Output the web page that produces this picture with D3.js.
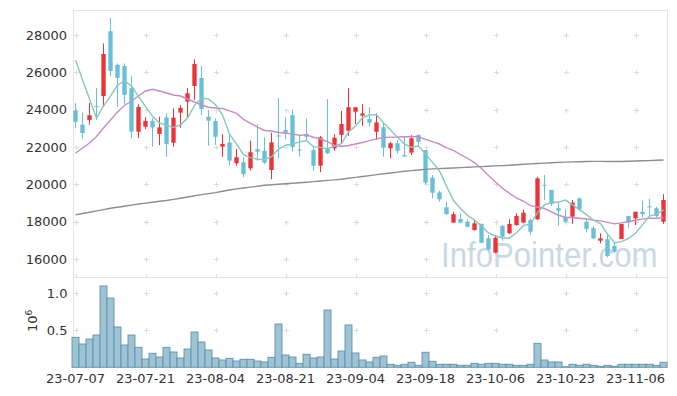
<!DOCTYPE html>
<html><head><meta charset="utf-8">
<script src="https://cdn.jsdelivr.net/npm/d3@7"></script>
<style>
html,body{margin:0;padding:0;background:#fff;}
svg{display:block;font-family:"DejaVu Sans",sans-serif;}
</style></head><body>
<svg id="chart" width="677" height="396"></svg>
<script>
const dates = ["23-07-07","23-07-10","23-07-11","23-07-12","23-07-13","23-07-14","23-07-17","23-07-18","23-07-19","23-07-20",
"23-07-21","23-07-24","23-07-25","23-07-26","23-07-27","23-07-28","23-07-31","23-08-01","23-08-02","23-08-03",
"23-08-04","23-08-07","23-08-08","23-08-09","23-08-10","23-08-11","23-08-14","23-08-16","23-08-17","23-08-18",
"23-08-21","23-08-22","23-08-23","23-08-24","23-08-25","23-08-28","23-08-29","23-08-30","23-08-31","23-09-01",
"23-09-04","23-09-05","23-09-06","23-09-07","23-09-08","23-09-11","23-09-12","23-09-13","23-09-14","23-09-15",
"23-09-18","23-09-19","23-09-20","23-09-21","23-09-22","23-09-25","23-09-26","23-09-27","23-10-04","23-10-05",
"23-10-06","23-10-10","23-10-11","23-10-12","23-10-13","23-10-16","23-10-17","23-10-18","23-10-19","23-10-20",
"23-10-23","23-10-24","23-10-25","23-10-26","23-10-27","23-10-30","23-10-31","23-11-01","23-11-02","23-11-03",
"23-11-06","23-11-07","23-11-08","23-11-09","23-11-10"];

const open = [23950,23200,23450,24200,24730,28200,26400,26340,25150,22820,
23090,23400,22700,23590,22230,23840,24430,25270,25700,23620,
23390,22020,22250,21130,21180,20860,21890,21790,20770,22620,
22910,23710,21860,22700,21840,21000,21890,21930,22650,22870,
23890,23680,23500,22820,23060,21930,22200,21570,21700,22640,
21840,20360,19570,18770,17950,18140,18000,17550,17880,17110,
16340,17770,17380,17820,17950,18090,18130,19980,19700,18720,
18230,18270,19250,18000,17650,16980,17060,16700,17070,18300,
18180,18530,18820,18720,18000];

const high = [24350,23850,24350,25150,27550,28900,26480,26480,25800,24290,
23590,23540,23620,23800,24070,24250,25150,26700,26340,23980,
23540,22680,22640,21890,21450,22340,23230,22520,22770,24610,
23590,24020,22590,23540,22000,22590,24570,22680,23930,25150,
24130,24290,24130,23800,23300,22270,22380,22590,22640,22680,
21840,20500,19660,19070,18530,18450,18130,18090,17910,17290,
17290,17820,18130,18450,18630,18180,20400,20500,19700,19070,
18660,19160,19310,18180,17770,17380,17380,16870,17880,18300,
18530,19120,19220,18800,19470];

const low = [23000,22450,23200,23450,24150,25770,24150,24290,22470,22470,
22960,22020,22100,21480,22020,23030,23540,24520,23710,22070,
22110,21480,21000,21000,20380,20730,21270,21090,20270,21400,
22410,21750,21480,22380,20730,20650,21630,21800,22160,22600,
23230,23130,23090,22380,21480,21400,21660,21480,21570,22050,
20020,19250,19070,18360,17950,17910,17700,17520,16840,16450,
16300,16980,17340,17780,17910,17290,18090,19160,18840,17770,
17950,17880,18590,17430,17060,16840,16090,16340,17070,17650,
17820,18230,18360,18230,17880];

const close = [23350,22750,23700,24150,26980,26070,25700,24790,22820,24150,
23400,23050,23050,22160,23570,24100,24880,26450,24040,23410,
22550,22160,21270,21450,20540,21720,21750,21160,22250,22580,
22730,22000,21820,22550,21000,22520,21660,22500,23230,24130,
24130,23800,23300,23320,21960,22200,21800,21500,22470,22280,
20090,19550,19200,18410,18400,17950,17730,17910,16870,16520,
17140,17200,17880,18300,18480,17460,20320,19930,18950,18590,
18000,19020,18660,17610,17110,17110,16160,16390,17880,17950,
18530,18400,18790,18300,19160];

const volume = [405000,315000,382000,436000,1099000,936000,545000,301000,436000,270000,
112000,189000,139000,270000,207000,126000,247000,477000,342000,234000,
126000,99000,121000,85000,108000,108000,85000,72000,135000,585000,
166000,139000,54000,176000,126000,139000,774000,112000,220000,572000,
193000,99000,72000,135000,153000,41000,27000,41000,68000,27000,
203000,81000,41000,41000,41000,27000,27000,54000,41000,54000,
54000,41000,41000,27000,27000,41000,324000,99000,72000,72000,
8000,41000,27000,41000,27000,14000,27000,14000,41000,41000,
41000,41000,41000,27000,68000];

const ma5 = [26660,25600,24570,23540,24186,24730,25320,25538,25272,24706,
24172,23642,23294,23162,23046,23186,23552,24232,24608,24576,
24266,23722,22686,22168,21594,21428,21346,21324,21484,21892,
22094,22144,22276,22336,22020,21978,21910,22046,22182,22808,
23130,23558,23718,23736,23302,22916,22516,22156,21986,22050,
21628,21178,20718,19906,19130,18702,18338,18080,17772,17396,
17234,17128,17122,17408,17800,17864,18488,18898,19028,19050,
19158,18898,18644,18376,18080,17902,17330,16876,16930,17098,
17382,17830,18310,18394,18636];

const ma20 = [21663,21947,22214,22563,23018,23447,23875,24223,24464,24732,
25000,25091,25000,24893,24786,24732,24571,24411,24250,24129,
24089,24059,23938,23803,23481,23263,23066,22884,22856,22777,
22744,22691,22630,22649,22521,22442,22281,22083,22043,22079,
22158,22240,22341,22435,22506,22530,22532,22549,22560,22545,
22413,22291,22160,21953,21823,21594,21398,21168,20850,20470,
20120,19790,19519,19268,19094,18857,18783,18705,18529,18344,
18240,18213,18186,18146,18082,18040,17961,17885,17936,18007,
18077,18135,18181,18181,18215];

const ma120 = [18363,18438,18507,18577,18647,18716,18775,18829,18888,18947,
18995,19043,19091,19134,19193,19257,19322,19386,19450,19504,
19557,19627,19697,19756,19804,19852,19900,19949,19981,20007,
20034,20061,20088,20114,20147,20179,20211,20238,20275,20323,
20372,20420,20468,20522,20565,20607,20655,20698,20736,20768,
20800,20827,20843,20859,20875,20897,20918,20934,20950,20972,
20988,21004,21025,21047,21073,21095,21116,21138,21159,21175,
21191,21202,21213,21223,21229,21229,21223,21223,21223,21234,
21250,21261,21272,21288,21304];

const priceTicks = [16000,18000,20000,22000,24000,26000,28000];
const volumeTicks = [500000,1000000];
const volumeTickLabels = ["0.5","1.0"];
const tickEvery = 10;

const svg = d3.select("#chart");
const L = 72, R = 667;
const x = d3.scaleBand().domain(dates).range([L, R]).padding(0);
const cx = d => x(d) + x.bandwidth()/2;
const y = d3.scaleLinear().domain([16000, 28000]).range([259, 35]);
const yv = d3.scaleLinear().domain([0, 1000000]).range([367.3, 293.3]);
const xTicks = dates.filter((d,i) => i % tickEvery === 0);

// watermark
svg.append("text").attr("transform", "translate(441,267) scale(0.89,1)")
  .attr("font-family", "Liberation Sans, Arial, sans-serif").attr("font-size", 35)
  .attr("fill", "#c8d9e5").text("InfoPointer.com");

// frame
const frame = svg.append("g").attr("stroke", "#e4e4e4").attr("stroke-width", 1).attr("fill", "none");
frame.append("line").attr("x1", 73).attr("x2", 667.5).attr("y1", 10.5).attr("y2", 10.5);
frame.append("line").attr("x1", 73).attr("x2", 667.5).attr("y1", 277.5).attr("y2", 277.5);
frame.append("line").attr("x1", 73.5).attr("x2", 73.5).attr("y1", 10).attr("y2", 368);
frame.append("line").attr("x1", 667.5).attr("x2", 667.5).attr("y1", 10).attr("y2", 368);

// grid crosses
const grid = svg.append("g").attr("stroke", "#dcdcdc").attr("stroke-width", 1);
const cross = (px, py) => {
  grid.append("line").attr("x1", px-2.5).attr("x2", px+2.5).attr("y1", py).attr("y2", py);
  grid.append("line").attr("x1", px).attr("x2", px).attr("y1", py-2.5).attr("y2", py+2.5);
};
xTicks.forEach(d => {
  const px = Math.round(cx(d)) + 0.5;
  priceTicks.forEach(t => cross(px, Math.round(y(t)) + 0.5));
  volumeTicks.forEach(t => cross(px, Math.round(yv(t)) + 0.5));
  grid.append("line").attr("x1", px).attr("x2", px).attr("y1", 274).attr("y2", 277.5);
});

// volume bars
svg.append("g").selectAll("rect").data(dates).join("rect")
  .attr("x", d => x(d)).attr("width", x.bandwidth())
  .attr("y", (d,i) => yv(volume[i])).attr("height", (d,i) => yv(0) - yv(volume[i]))
  .attr("fill", "#9fc3d4").attr("stroke", "#5a94ae").attr("stroke-width", 0.9);

// candles
const up = "#ec3338", down = "#68c0d8";
const bw = x.bandwidth() * 0.62;
const cg = svg.append("g");
cg.selectAll("line").data(dates).join("line")
  .attr("x1", d => cx(d)).attr("x2", d => cx(d))
  .attr("y1", (d,i) => y(high[i])).attr("y2", (d,i) => y(low[i]))
  .attr("stroke", (d,i) => close[i] >= open[i] ? up : down).attr("stroke-width", 1);
cg.selectAll("rect").data(dates).join("rect")
  .attr("x", d => cx(d) - bw/2).attr("width", bw)
  .attr("y", (d,i) => y(Math.max(open[i], close[i])))
  .attr("height", (d,i) => Math.max(1, Math.abs(y(open[i]) - y(close[i]))))
  .attr("fill", (d,i) => close[i] >= open[i] ? up : down);

// moving averages
const line = d3.line().x((v,i) => cx(dates[i])).y(v => y(v));
svg.append("path").datum(ma120).attr("d", line).attr("fill", "none").attr("stroke", "#8e8e8e").attr("stroke-width", 1.4);
svg.append("path").datum(ma20).attr("d", line).attr("fill", "none").attr("stroke", "#c98bc5").attr("stroke-width", 1.4);
svg.append("path").datum(ma5).attr("d", line).attr("fill", "none").attr("stroke", "#86c8bd").attr("stroke-width", 1.4);

// labels
const lab = svg.append("g").attr("fill", "#333").attr("font-size", 13);
priceTicks.forEach(t => lab.append("text").attr("x", 67).attr("y", y(t)).attr("dy", "0.36em").attr("text-anchor", "end").text(t));
volumeTicks.forEach((t,k) => lab.append("text").attr("x", 67.5).attr("y", yv(t)).attr("dy", "0.36em").attr("text-anchor", "end").text(volumeTickLabels[k]));
xTicks.forEach(d => lab.append("text").attr("x", cx(d)).attr("y", 383).attr("text-anchor", "middle").text(d));
const exp = lab.append("text").attr("transform", "translate(37,332) rotate(-90)");
exp.append("tspan").text("10");
exp.append("tspan").attr("dy", -5).attr("font-size", 9).text("6");
</script>
</body></html>
